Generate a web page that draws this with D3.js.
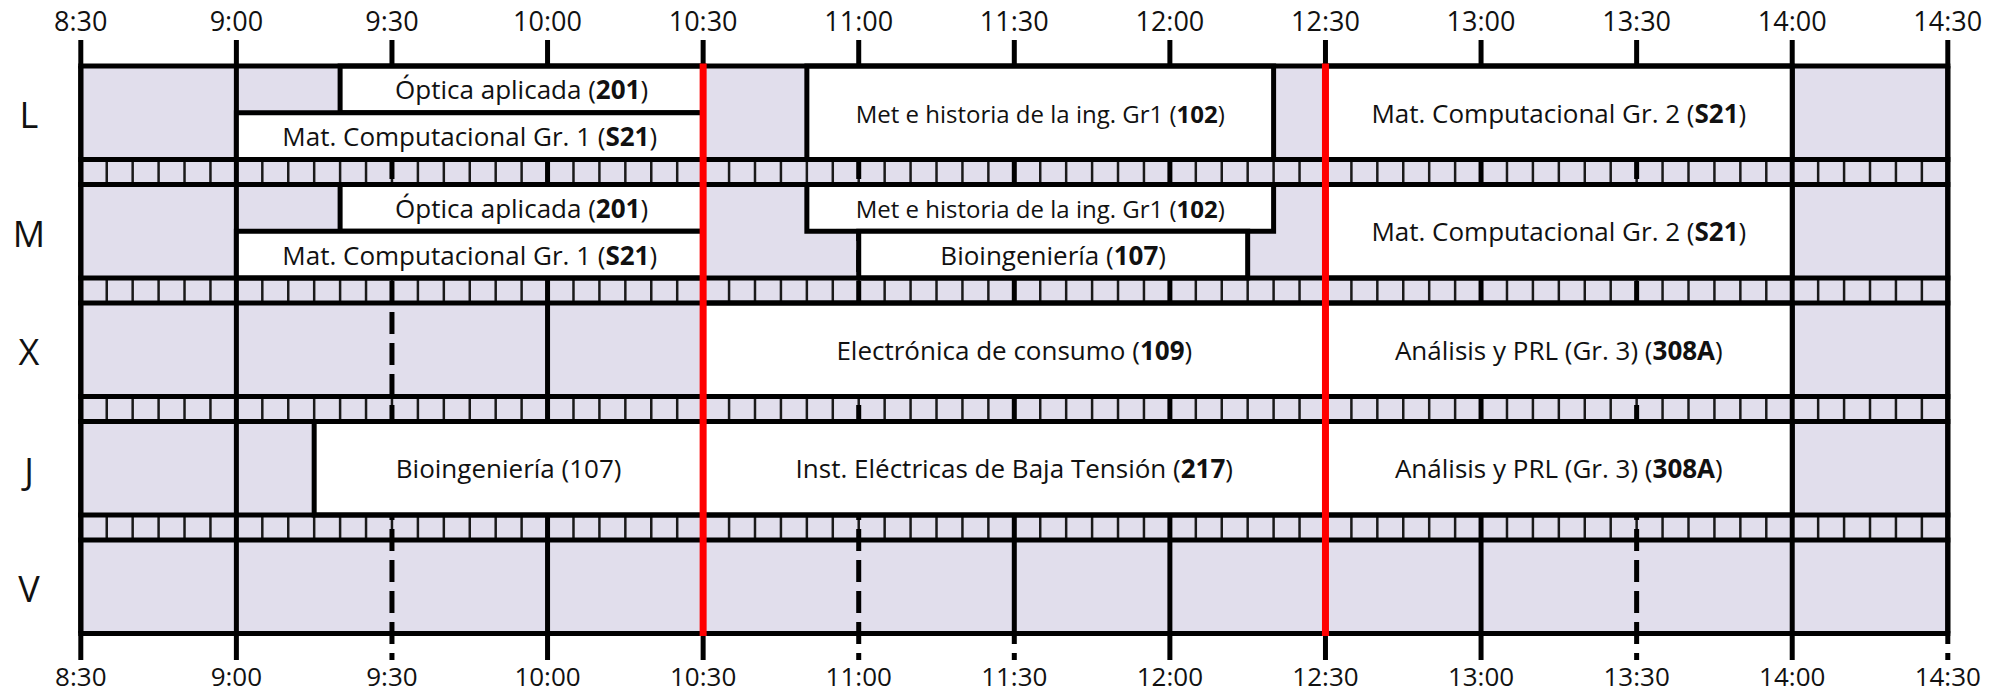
<!DOCTYPE html>
<html><head><meta charset="utf-8">
<script src="https://cdn.jsdelivr.net/npm/d3@7"></script>
<style>
body{margin:0;background:#fff;}
text{font-family:"Open Sans","Noto Sans",sans-serif;fill:#111;}
</style>
</head><body>
<svg id="chart" width="2001" height="694"></svg>
<script>
// ---------- data ----------
const days = ["L", "M", "X", "J", "V"];
const tickLabels = ["8:30","9:00","9:30","10:00","10:30","11:00","11:30","12:00","12:30","13:00","13:30","14:00","14:30"];
const dashedLines = ["9:30", "11:00", "13:30"];
const dashedBottomTicks = ["9:30", "11:00", "11:30", "13:30", "14:30"];
const redLines = ["10:30", "12:30"];
const stripStepMinutes = 5;

const sessionDay   = ["L","L","L","L", "M","M","M","M","M", "X","X", "J","J","J"];
const sessionStart = ["9:20","9:00","10:50","12:30", "9:20","9:00","10:50","11:00","12:30", "10:30","12:30", "9:15","10:30","12:30"];
const sessionEnd   = ["10:30","10:30","12:20","14:00", "10:30","10:30","12:20","12:15","14:00", "12:30","14:00", "10:30","12:30","14:00"];
const sessionPart  = ["top","bottom","full","full", "top","bottom","top","bottom","full", "full","full", "full","full","full"];
const sessionName  = ["Óptica aplicada","Mat. Computacional Gr. 1","Met e historia de la ing. Gr1","Mat. Computacional Gr. 2",
                      "Óptica aplicada","Mat. Computacional Gr. 1","Met e historia de la ing. Gr1","Bioingeniería","Mat. Computacional Gr. 2",
                      "Electrónica de consumo","Análisis y PRL (Gr. 3)",
                      "Bioingeniería","Inst. Eléctricas de Baja Tensión","Análisis y PRL (Gr. 3)"];
const sessionRoom  = ["201","S21","102","S21", "201","S21","102","107","S21", "109","308A", "107","217","308A"];
const sessionRoomBold = [true,true,true,true, true,true,true,true,true, true,true, false,true,true];
const smallLabelNames = ["Met e historia de la ing. Gr1"];

// ---------- helpers ----------
const toMin = s => { const [h, m] = s.split(":").map(Number); return h * 60 + m; };
const sessions = sessionDay.map((d, i) => ({
  day: d, start: toMin(sessionStart[i]), end: toMin(sessionEnd[i]), part: sessionPart[i],
  name: sessionName[i], room: sessionRoom[i], bold: sessionRoomBold[i]
}));

// ---------- layout ----------
const yTop = 66, yBottom = 633.5;
const tickTop = 40, tickBottom = 660;
const lw = 5, thin = 2.5, redW = 7;
const lav = "#E1DEEC";
const dash = "22,9";

const svg = d3.select("#chart");
const x = d3.scaleLinear().domain([toMin(tickLabels[0]), toMin(tickLabels[tickLabels.length - 1])]).range([80.8, 1947.8]);
const y = d3.scaleBand().domain(days).range([yTop, yBottom]).paddingInner(25 / 118.5).paddingOuter(0);
const bw = y.bandwidth();

// background
svg.append("rect").attr("x", x.range()[0]).attr("y", yTop)
  .attr("width", x.range()[1] - x.range()[0]).attr("height", yBottom - yTop).attr("fill", lav);

// strips with 5-minute lines
const strips = days.slice(0, -1).map((d, i) => ({ y0: y(d) + bw, y1: y(days[i + 1]) }));
const minuteTicks = d3.range(x.domain()[0], x.domain()[1] + 1, stripStepMinutes);
strips.forEach(s => {
  svg.append("g").selectAll("line").data(minuteTicks).join("line")
    .attr("x1", d => x(d)).attr("x2", d => x(d)).attr("y1", s.y0).attr("y2", s.y1)
    .attr("stroke", "#1a1a1a").attr("stroke-width", thin);
});

// gridlines
const grid = svg.append("g");
tickLabels.forEach(t => {
  const xx = x(toMin(t));
  grid.append("line").attr("x1", xx).attr("x2", xx).attr("y1", tickTop).attr("y2", yTop)
    .attr("stroke", "#000").attr("stroke-width", lw);
  if (dashedLines.includes(t)) {
    grid.append("path").attr("d", d3.line()([[xx, tickBottom], [xx, yTop]]))
      .attr("stroke", "#000").attr("stroke-width", lw).attr("fill", "none")
      .attr("stroke-dasharray", dash).attr("stroke-dashoffset", 15);
  } else {
    grid.append("line").attr("x1", xx).attr("x2", xx).attr("y1", yTop).attr("y2", yBottom)
      .attr("stroke", "#000").attr("stroke-width", lw);
    const tick = grid.append("path").attr("d", d3.line()([[xx, tickBottom], [xx, yBottom]]))
      .attr("stroke", "#000").attr("stroke-width", lw).attr("fill", "none");
    if (dashedBottomTicks.includes(t)) tick.attr("stroke-dasharray", dash).attr("stroke-dashoffset", 15);
  }
});

// session blocks
const partY = (s) => {
  const y0 = y(s.day);
  if (s.part === "top") return [y0, y0 + bw / 2];
  if (s.part === "bottom") return [y0 + bw / 2, y0 + bw];
  return [y0, y0 + bw];
};
const blocks = svg.append("g");
blocks.selectAll("rect").data(sessions).join("rect")
  .attr("x", d => x(d.start)).attr("width", d => x(d.end) - x(d.start))
  .attr("y", d => partY(d)[0]).attr("height", d => partY(d)[1] - partY(d)[0])
  .attr("fill", "#fff").attr("stroke", "#000").attr("stroke-width", lw);

// horizontal borders
const hy = [];
days.forEach(d => { hy.push(y(d)); hy.push(y(d) + bw); });
svg.append("g").selectAll("line").data(hy).join("line")
  .attr("x1", x.range()[0]).attr("x2", x.range()[1]).attr("y1", d => d).attr("y2", d => d)
  .attr("stroke", "#000").attr("stroke-width", lw).attr("stroke-linecap", "square");

// outer verticals on top
[tickLabels[0], tickLabels[tickLabels.length - 1]].forEach(t => {
  svg.append("line").attr("x1", x(toMin(t))).attr("x2", x(toMin(t))).attr("y1", yTop).attr("y2", yBottom)
    .attr("stroke", "#000").attr("stroke-width", lw);
});

// red lines
svg.append("g").selectAll("line").data(redLines).join("line")
  .attr("x1", d => x(toMin(d))).attr("x2", d => x(toMin(d)))
  .attr("y1", yTop - lw / 2).attr("y2", yBottom + lw / 2)
  .attr("stroke", "#ff0000").attr("stroke-width", redW);

// block labels
const lab = svg.append("g").attr("text-anchor", "middle");
sessions.forEach(s => {
  const [a, b] = partY(s);
  const t = lab.append("text").attr("x", (x(s.start) + x(s.end)) / 2).attr("y", (a + b) / 2)
    .attr("font-size", smallLabelNames.includes(s.name) ? 24 : 26)
    .attr("dominant-baseline", "central");
  t.append("tspan").text(s.name + " (");
  t.append("tspan").attr("font-weight", s.bold ? "bold" : "normal").text(s.room);
  t.append("tspan").text(")");
});

// day labels
svg.append("g").selectAll("text").data(days).join("text")
  .attr("x", 29).attr("y", d => y(d) + bw / 2).attr("dy", "0.06em")
  .attr("dominant-baseline", "central").attr("text-anchor", "middle")
  .attr("font-size", 36).text(d => d);

// time labels top and bottom
const axTop = svg.append("g").attr("font-size", 27).attr("text-anchor", "middle");
axTop.selectAll("text").data(tickLabels).join("text")
  .attr("x", d => x(toMin(d))).attr("y", 31).text(d => d);
const axBot = svg.append("g").attr("font-size", 26).attr("text-anchor", "middle");
axBot.selectAll("text").data(tickLabels).join("text")
  .attr("x", d => x(toMin(d))).attr("y", 686).text(d => d);
</script>
</body></html>
